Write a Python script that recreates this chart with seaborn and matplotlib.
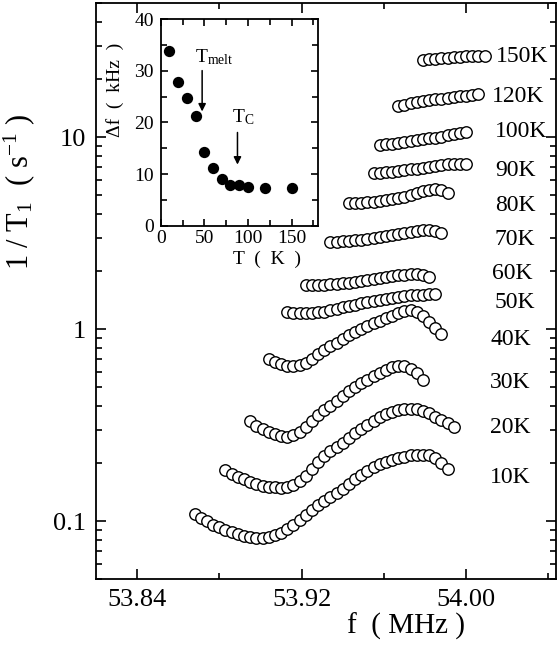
import numpy as np
import pandas as pd
import matplotlib
matplotlib.use("Agg")
import matplotlib.pyplot as plt
import seaborn as sns
from matplotlib.ticker import MultipleLocator, LogLocator, FixedLocator, FormatStrFormatter, NullFormatter

# frequency grid (MHz), shared by all temperature runs
freq = [53.868, 53.871, 53.874, 53.877, 53.880, 53.883, 53.886, 53.889, 53.892, 53.895,
        53.898, 53.901, 53.904, 53.907, 53.910, 53.913, 53.916, 53.919, 53.922, 53.925,
        53.928, 53.931, 53.934, 53.937, 53.940, 53.943, 53.946, 53.949, 53.952, 53.955,
        53.958, 53.961, 53.964, 53.967, 53.970, 53.973, 53.976, 53.979, 53.982, 53.985,
        53.988, 53.991, 53.994, 53.997, 54.000, 54.003, 54.006, 54.009]

# 1/T1 (s^-1) for each temperature, with index of first grid point
rate_10K = [0.109, 0.104, 0.100, 0.096, 0.093, 0.090, 0.088, 0.086, 0.084, 0.083,
            0.082, 0.082, 0.083, 0.085, 0.087, 0.091, 0.096, 0.102, 0.108, 0.115,
            0.121, 0.127, 0.133, 0.140, 0.148, 0.157, 0.166, 0.175, 0.183, 0.191,
            0.198, 0.204, 0.209, 0.213, 0.217, 0.220, 0.222, 0.222, 0.220, 0.213,
            0.202, 0.188]
rate_20K = [0.184, 0.176, 0.170, 0.165, 0.160, 0.156, 0.153, 0.151, 0.150, 0.149,
            0.151, 0.155, 0.162, 0.172, 0.186, 0.203, 0.218, 0.231, 0.244, 0.257,
            0.271, 0.287, 0.302, 0.318, 0.333, 0.347, 0.360, 0.371, 0.378, 0.384,
            0.386, 0.384, 0.376, 0.364, 0.350, 0.336, 0.323, 0.310]
rate_30K = [0.331, 0.315, 0.302, 0.291, 0.283, 0.278, 0.276, 0.281, 0.293, 0.310,
            0.332, 0.356, 0.378, 0.400, 0.424, 0.449, 0.474, 0.498, 0.522, 0.546,
            0.570, 0.592, 0.615, 0.635, 0.647, 0.640, 0.620, 0.590, 0.545]
rate_40K = [0.700, 0.672, 0.655, 0.645, 0.640, 0.648, 0.668, 0.700, 0.740, 0.778,
            0.815, 0.852, 0.892, 0.930, 0.968, 1.005, 1.040, 1.075, 1.105, 1.140,
            1.175, 1.210, 1.240, 1.258, 1.230, 1.170, 1.090, 1.010, 0.945]
rate_50K = [1.230, 1.215, 1.210, 1.212, 1.216, 1.222, 1.235, 1.252, 1.275, 1.298,
            1.318, 1.340, 1.362, 1.385, 1.405, 1.425, 1.442, 1.460, 1.478, 1.492,
            1.503, 1.510, 1.515, 1.518, 1.520]
rate_60K = [1.700, 1.700, 1.703, 1.707, 1.711, 1.722, 1.735, 1.745, 1.765, 1.785,
            1.805, 1.825, 1.848, 1.870, 1.893, 1.912, 1.925, 1.930, 1.930, 1.910,
            1.880]
rate_70K = [2.85, 2.86, 2.875, 2.89, 2.905, 2.92, 2.95, 2.98, 3.01, 3.05,
            3.085, 3.13, 3.18, 3.22, 3.25, 3.27, 3.28, 3.26, 3.18]
rate_80K = [4.52, 4.54, 4.56, 4.59, 4.62, 4.66, 4.70, 4.74, 4.80, 4.90,
            4.99, 5.10, 5.22, 5.33, 5.38, 5.30, 5.13]
rate_90K = [6.48, 6.51, 6.55, 6.59, 6.65, 6.72, 6.79, 6.86, 6.94, 7.02,
            7.10, 7.19, 7.24, 7.27, 7.28, 7.29]
rate_100K = [9.11, 9.18, 9.25, 9.32, 9.42, 9.53, 9.64, 9.74, 9.85, 9.96,
             10.08, 10.22, 10.36, 10.50, 10.64]
rate_120K = [14.5, 14.75, 15.0, 15.24, 15.42, 15.60, 15.75, 15.9, 16.05, 16.2,
             16.35, 16.48, 16.6, 16.71]
rate_150K = [25.1, 25.4, 25.6, 25.8, 26.0, 26.15, 26.3, 26.4, 26.5, 26.6, 26.45]

temps = ["10K", "20K", "30K", "40K", "50K", "60K", "70K", "80K", "90K", "100K", "120K", "150K"]
rates = [rate_10K, rate_20K, rate_30K, rate_40K, rate_50K, rate_60K,
         rate_70K, rate_80K, rate_90K, rate_100K, rate_120K, rate_150K]
first_idx = [0, 5, 9, 12, 15, 18, 22, 25, 29, 30, 33, 37]

# inset: linewidth vs temperature
inset_T = [10, 20, 30, 40, 50, 60, 70, 80, 90, 100, 120, 150]
inset_df = [33.8, 27.9, 24.8, 21.3, 14.3, 11.1, 9.1, 7.8, 7.9, 7.5, 7.3, 7.3]

rows = []
for t, r, i0 in zip(temps, rates, first_idx):
    for k, v in enumerate(r):
        rows.append((t, freq[i0 + k], v))
df = pd.DataFrame(rows, columns=["T", "f", "rate"])

sns.set_style("ticks")
plt.rcParams['font.family'] = ['Liberation Serif', 'DejaVu Serif']
plt.rcParams['mathtext.fontset'] = 'custom'
plt.rcParams['mathtext.rm'] = 'Liberation Serif'
plt.rcParams['mathtext.it'] = 'Liberation Serif:italic'
plt.rcParams['axes.linewidth'] = 1.3
plt.rcParams['axes.edgecolor'] = 'black'
plt.rcParams['text.color'] = 'black'
plt.rcParams['axes.labelcolor'] = 'black'

fig = plt.figure(figsize=(5.58, 6.5), dpi=100)
ax = fig.add_axes([0.172, 0.1092, 0.8253, 0.8862])

sns.scatterplot(data=df, x="f", y="rate", marker="o", s=68, facecolor="white",
                edgecolor="black", linewidth=1.0, ax=ax, legend=False, zorder=3)

ax.set_yscale("log")
ax.set_xlim(53.82, 54.044)
ax.set_ylim(0.05, 50)
ax.xaxis.set_major_locator(FixedLocator([53.84, 53.92, 54.00]))
ax.xaxis.set_minor_locator(FixedLocator([53.88, 53.96, 54.04]))
ax.xaxis.set_major_formatter(FormatStrFormatter("%.2f"))
ax.yaxis.set_major_locator(FixedLocator([0.1, 1, 10]))
ax.yaxis.set_major_formatter(matplotlib.ticker.FixedFormatter(["0.1", "1", "10"]))
ax.yaxis.set_minor_locator(LogLocator(base=10, subs=np.arange(2, 10)))
ax.yaxis.set_minor_formatter(NullFormatter())
ax.tick_params(which="both", direction="in", top=True, right=True, width=1.2,
               labelsize=19, pad=7, colors="black")
ax.tick_params(which="major", length=7.5)
ax.tick_params(which="minor", length=4.5)

ax.set_xlabel("f  ( MHz )", fontsize=21)
ax.xaxis.set_label_coords(0.673, -0.058)
ax.set_ylabel(r"1 / T$_1$  ( s$^{-1}$ )", fontsize=22)
ax.yaxis.set_label_coords(-0.128, 0.672)

label_x = [0.856, 0.856, 0.856, 0.856, 0.866, 0.860, 0.866, 0.866, 0.866, 0.866, 0.860, 0.868]
label_y = [0.177, 0.263, 0.342, 0.415, 0.480, 0.531, 0.590, 0.649, 0.710, 0.777, 0.837, 0.907]
for t, lx, ly in zip(temps, label_x, label_y):
    ax.text(lx, ly, t, transform=ax.transAxes, fontsize=17, ha="left", va="center")

# inset
axi = fig.add_axes([0.288, 0.6528, 0.2814, 0.3175])
sns.scatterplot(x=inset_T, y=inset_df, color="black", s=66, edgecolor="black",
                linewidth=0, ax=axi, legend=False, zorder=3)
axi.set_xlim(0, 180)
axi.set_ylim(0, 40)
axi.xaxis.set_major_locator(MultipleLocator(50))
axi.xaxis.set_minor_locator(MultipleLocator(25))
axi.yaxis.set_major_locator(MultipleLocator(10))
axi.yaxis.set_minor_locator(MultipleLocator(5))
axi.tick_params(which="both", direction="in", top=True, right=True, width=1.2,
                labelsize=14, colors="black")
axi.tick_params(which="major", length=5)
axi.tick_params(which="minor", length=4)
axi.tick_params(axis="x", pad=3)
axi.tick_params(axis="y", pad=5)
axi.set_xlabel("T  (  K  )", fontsize=14)
axi.xaxis.set_label_coords(0.674, -0.12)
axi.set_ylabel("Δf  (  kHz  )", fontsize=14)
axi.yaxis.set_label_coords(-0.235, 0.66)

axi.annotate("", xy=(47.5, 21.6), xytext=(47.5, 30.6),
             arrowprops=dict(arrowstyle="-|>", color="black", lw=1.1, mutation_scale=11))
axi.annotate("", xy=(88, 11.3), xytext=(88, 18.6),
             arrowprops=dict(arrowstyle="-|>", color="black", lw=1.1, mutation_scale=11))
axi.text(39, 31.6, r"T$_{\mathrm{melt}}$", fontsize=14, ha="left", va="baseline")
axi.text(82, 20.1, r"T$_{\mathrm{C}}$", fontsize=14, ha="left", va="baseline")

fig.savefig("out.png", dpi=100, facecolor="white")
